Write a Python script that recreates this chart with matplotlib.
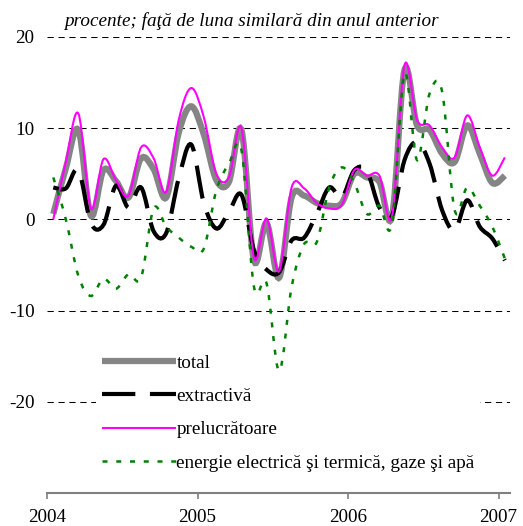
import matplotlib
matplotlib.use("Agg")
import matplotlib.pyplot as plt
from matplotlib.path import Path
from matplotlib.patches import PathPatch
from matplotlib.lines import Line2D

plt.rcParams['font.family'] = ['Liberation Serif', 'DejaVu Serif']
plt.rcParams['axes.unicode_minus'] = False

# monthly values, Jan 2004 .. Jan 2007
total = [0.6, 5.6, 9.8, 0.4, 5.4, 4.2, 2.4, 6.7, 5.5, 2.4, 9.5, 12.4,
         9.3, 4.3, 4.1, 9.8, -4.5, -0.4, -6.4, 2.4, 2.6, 1.8, 1.5, 1.8,
         5.0, 4.6, 4.1, 0.3, 16.4, 10.3, 9.8, 7.2, 6.3, 10.3, 7.2, 4.0, 4.8]
extract = [3.5, 3.4, 5.4, -0.4, -0.6, 3.7, 1.3, 3.5, -1.3, -1.5, 4.5, 8.2,
           1.8, -1.0, 0.8, 2.7, -3.4, -5.5, -5.8, -2.3, -2.0, 0.6, 3.5, 2.4,
           5.4, 5.3, 1.3, 0.4, 6.5, 8.5, 6.1, 1.0, -1.2, 2.1, -0.8, -2.1, -4.5]
prelucr = [0.0, 6.3, 11.6, 1.2, 6.6, 4.3, 2.6, 7.9, 6.7, 3.0, 10.9, 14.4,
           11.2, 5.0, 4.6, 10.0, -4.2, 0.1, -5.7, 3.5, 3.4, 1.8, 1.2, 1.6,
           5.4, 4.8, 4.8, 0.3, 16.9, 10.9, 10.3, 7.9, 6.8, 11.4, 7.9, 4.8, 6.8]
energie = [4.6, 0.0, -6.2, -8.4, -6.5, -7.6, -6.0, -6.4, 1.2, -0.8, -2.0, -3.0,
           -3.2, 3.2, 6.1, 7.6, -7.4, -7.0, -16.6, -7.4, -2.7, -2.5, 3.5, 5.7,
           4.0, 0.6, 1.5, -0.5, 16.0, 6.5, 13.8, 14.0, 1.0, 3.5, 1.5, -0.8, -4.3]

labels = ["total", "extractivă", "prelucrătoare",
          "energie electrică şi termică, gaze şi apă"]
years = ["2004", "2005", "2006", "2007"]
yticks = [-20, -10, 0, 10, 20]

FS = 13.8


def smooth_path(xs, ys):
    # catmull-rom through the points, as cubic bezier segments
    pts = list(zip(xs, ys))
    verts = [pts[0]]
    codes = [Path.MOVETO]
    n = len(pts)
    for i in range(n - 1):
        p0 = pts[max(i - 1, 0)]
        p1 = pts[i]
        p2 = pts[i + 1]
        p3 = pts[min(i + 2, n - 1)]
        c1 = (p1[0] + (p2[0] - p0[0]) / 6, p1[1] + (p2[1] - p0[1]) / 6)
        c2 = (p2[0] - (p3[0] - p1[0]) / 6, p2[1] - (p3[1] - p1[1]) / 6)
        verts += [c1, c2, p2]
        codes += [Path.CURVE4] * 3
    return Path(verts, codes)


fig = plt.figure(figsize=(5.23, 5.26), dpi=100)
ax = fig.add_axes([0.0899, 0.0627, 0.885, 0.867])

xs = [i + 0.5 for i in range(len(total))]
styles = [
    dict(color='#858585', lw=4.5, ls='-'),
    dict(color='black', lw=3.0, ls=(0, (8, 3.5))),
    dict(color='#ff00ff', lw=1.5, ls='-'),
    dict(color='#008000', lw=1.8, ls=(0, (2, 3.5))),
]
handles = []
for ys, st, lab in zip([total, extract, prelucr, energie], styles, labels):
    patch = PathPatch(smooth_path(xs, ys), fill=False, edgecolor=st['color'],
                      lw=st['lw'], linestyle=st['ls'], capstyle='butt', zorder=3)
    ax.add_patch(patch)
    handles.append(Line2D([], [], color=st['color'], lw=st['lw'],
                          linestyle=st['ls'], solid_capstyle='butt',
                          dash_capstyle='butt'))

ax.set_xlim(0, 36.9)
ax.set_ylim(-30, 20)
ax.set_xticks([0, 12, 24, 36])
ax.set_xticklabels(years, fontsize=FS)
ax.set_yticks(yticks)
ax.set_yticklabels([str(v) for v in yticks], fontsize=FS)
ax.tick_params(axis='y', length=0, pad=9)
ax.tick_params(axis='x', length=4.5, width=1.2, color='#808080', pad=7)
ax.grid(axis='y', color='black', lw=0.75, linestyle=(0, (6, 4.5)))
ax.set_axisbelow(True)
for s in ['left', 'top', 'right']:
    ax.spines[s].set_visible(False)
ax.spines['bottom'].set_color('#808080')
ax.spines['bottom'].set_linewidth(1.5)

leg = ax.legend(handles, labels, loc='upper left', bbox_to_anchor=(0.085, 0.338),
                fontsize=FS, handlelength=3.9, handletextpad=0.0,
                labelspacing=0.83, frameon=True, framealpha=1,
                facecolor='white', edgecolor='none', borderpad=0.3)
leg.get_frame().set_boxstyle('square', pad=0)
leg.set_zorder(2.5)

fig.text(64 / 523, 1 - 26 / 526, "procente; faţă de luna similară din anul anterior",
         fontsize=FS, style='italic', va='baseline')

fig.savefig("out.png", dpi=100)
